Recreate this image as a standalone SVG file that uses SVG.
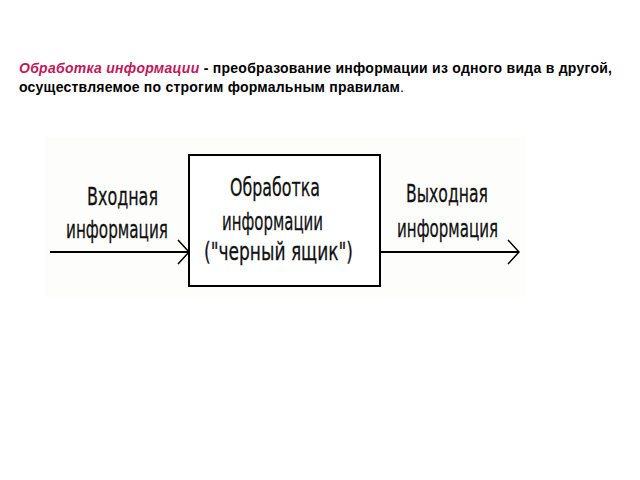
<svg xmlns="http://www.w3.org/2000/svg" width="640" height="480" viewBox="0 0 640 480">
<style>
.title{font-family:"Liberation Sans",Arial,sans-serif;font-size:14px;font-weight:bold;fill:#000}
.em{fill:#c2185b;font-style:italic}
.lbl{font-family:"DejaVu Sans",sans-serif;font-size:25px;fill:#111;stroke:#111;stroke-width:0.3}
.ln{stroke:#000;stroke-width:2;fill:none}
</style>
<defs>
<marker id="chev" markerWidth="14" markerHeight="26" refX="12" refY="13" orient="auto" markerUnits="userSpaceOnUse">
<path d="M1,1 L12,13 L1,25" fill="none" stroke="#000" stroke-width="1.5"/>
</marker>
</defs>
<rect width="640" height="480" fill="#fff"/>
<text class="title" x="19" y="73" textLength="593" lengthAdjust="spacing"><tspan class="em">Обработка информации</tspan> - преобразование информации из одного вида в другой,</text>
<text class="title" x="19" y="92" textLength="385" lengthAdjust="spacing">осуществляемое по строгим формальным правилам<tspan font-weight="normal">.</tspan></text>
<rect x="46" y="137" width="479" height="160" fill="#fdfdfb"/>
<g id="connectors">
<line class="ln" x1="50" y1="252" x2="189" y2="252" marker-end="url(#chev)"/>
<line class="ln" x1="380" y1="252" x2="519" y2="252" marker-end="url(#chev)"/>
</g>
<g id="input">
<text class="lbl" x="87" y="205" textLength="71" lengthAdjust="spacingAndGlyphs">Входная</text>
<text class="lbl" x="66" y="238" textLength="102" lengthAdjust="spacingAndGlyphs">информация</text>
</g>
<g id="process">
<rect x="189" y="155" width="191" height="131" fill="#fff" stroke="#000" stroke-width="2"/>
<text class="lbl" x="230" y="196" textLength="90" lengthAdjust="spacingAndGlyphs">Обработка</text>
<text class="lbl" x="222" y="230" textLength="101" lengthAdjust="spacingAndGlyphs">информации</text>
<text class="lbl" x="204" y="260" textLength="149" lengthAdjust="spacingAndGlyphs">("черный ящик")</text>
</g>
<g id="output">
<text class="lbl" x="406" y="202" textLength="82" lengthAdjust="spacingAndGlyphs">Выходная</text>
<text class="lbl" x="397" y="237" textLength="101" lengthAdjust="spacingAndGlyphs">информация</text>
</g>
</svg>
